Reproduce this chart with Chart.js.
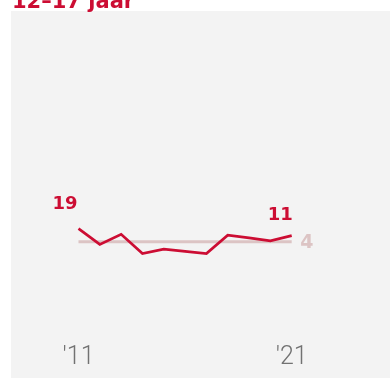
<!DOCTYPE html>
<html>
<head>
<meta charset="utf-8">
<script src="https://cdn.jsdelivr.net/npm/chart.js"></script>
<style>
    html, body { margin: 0; padding: 0; background: #fff; }
    #wrap { width: 390px; height: 378px; position: relative; }
</style>
</head>
<body>
<div id="wrap">
    <canvas id="youthChart" width="390" height="378"></canvas>
</div>

<script>
    // data
    const titleText = "12–17 jaar";
    const years = ["2011", "2012", "2013", "2014", "2015", "2016", "2017", "2018", "2019", "2020", "2021"];
    const xTickLabels = ["'11", "'21"];
    const youthValues = [19, 1, 12.5, -9.5, -4.5, -7, -9.5, 11.5, 8.5, 5, 11];
    const averageValues = [4, 4, 4, 4, 4, 4, 4, 4, 4, 4, 4];

    const red = "#cc0d33";
    const pink = "#dcc4c4";

    // panel + title + labels drawn on the canvas
    const decorPlugin = {
        id: "decor",
        beforeDraw(chart) {
            const ctx = chart.ctx;
            ctx.save();
            ctx.fillStyle = "#ffffff";
            ctx.fillRect(0, 0, chart.width, chart.height);
            ctx.fillStyle = "#f3f3f3";
            ctx.fillRect(11, 11, chart.width - 11, chart.height - 11);
            // title, cut off at the top like the original
            ctx.fillStyle = red;
            ctx.font = "bold 21px 'DejaVu Sans'";
            ctx.textBaseline = "alphabetic";
            ctx.textAlign = "left";
            ctx.fillText(titleText, 12, 7.5);
            ctx.restore();
        },
        afterDatasetsDraw(chart) {
            const ctx = chart.ctx;
            const xs = chart.scales.x;
            const main = chart.getDatasetMeta(0).data;
            const avg = chart.getDatasetMeta(1).data;
            const first = main[0];
            const last = main[main.length - 1];
            ctx.save();

            // end values of the red line
            ctx.fillStyle = red;
            ctx.font = "bold 18px 'DejaVu Sans'";
            ctx.textAlign = "right";
            ctx.textBaseline = "alphabetic";
            ctx.fillText(String(youthValues[0]), first.x - 1, first.y - 19.5);
            ctx.fillText(String(youthValues[youthValues.length - 1]), last.x + 1, last.y - 16);

            // average label
            const avgLast = avg[avg.length - 1];
            ctx.fillStyle = pink;
            ctx.font = "bold 19px 'DejaVu Sans'";
            ctx.textAlign = "left";
            ctx.fillText(String(averageValues[averageValues.length - 1]), avgLast.x + 8.5, avgLast.y + 6.5);

            // x tick labels at first and last year
            ctx.fillStyle = "#727272";
            ctx.font = "300 25px Roboto";
            ctx.textAlign = "center";
            ctx.fillText(xTickLabels[0], xs.getPixelForValue(0), 364);
            ctx.fillText(xTickLabels[1], xs.getPixelForValue(years.length - 1), 364);
            ctx.restore();
        }
    };

    new Chart(document.getElementById("youthChart").getContext("2d"), {
        type: "line",
        data: {
            labels: years,
            datasets: [
                {
                    label: "12-17 jaar",
                    data: youthValues,
                    borderColor: red,
                    borderWidth: 2.7,
                    pointRadius: 0,
                    tension: 0,
                    order: 0
                },
                {
                    label: "gemiddelde",
                    data: averageValues,
                    borderColor: pink,
                    borderWidth: 3,
                    pointRadius: 0,
                    tension: 0,
                    order: 1
                }
            ]
        },
        options: {
            responsive: false,
            animation: false,
            layout: {
                padding: { left: 78.5, right: 98.3, top: 26.5, bottom: 45.2 }
            },
            plugins: {
                legend: { display: false },
                tooltip: { enabled: false }
            },
            scales: {
                x: { display: false, offset: false },
                y: { display: false, min: -100, max: 250 }
            }
        },
        plugins: [decorPlugin]
    });
</script>
</body>
</html>
